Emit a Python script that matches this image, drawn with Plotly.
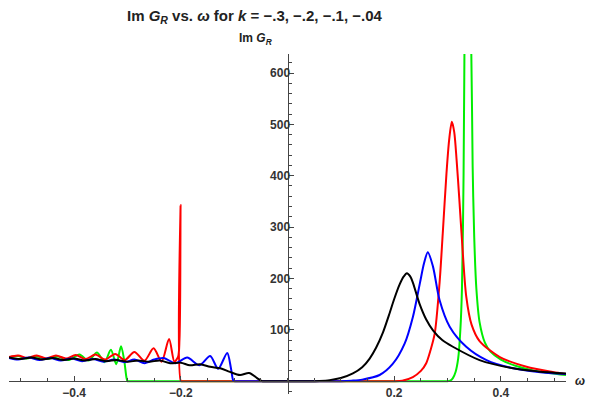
import plotly.graph_objects as go

# ---- data (omega, Im G_R) ----
w_green = [-0.522, -0.505, -0.49, -0.47, -0.45, -0.43, -0.41, -0.39, -0.373, -0.357, -0.343, -0.331,
           -0.321, -0.312, -0.306, -0.302, -0.300, -0.296, 0.296, 0.300, 0.305, 0.310, 0.315, 0.320,
           0.324, 0.327, 0.330, 0.332, 0.337, 0.342, 0.3445, 0.347, 0.350, 0.354, 0.360, 0.370,
           0.380, 0.400, 0.430, 0.460, 0.490, 0.522]
v_green = [46, 49, 44, 48, 43, 48, 41, 52, 40, 56, 37, 61,
           33, 68, 40, 8, 0, 0, 0, 0, 1, 6, 18, 45,
           100, 180, 400, 700, 1500, 700, 640, 420, 280, 180, 115, 75,
           58, 42, 29, 21, 16, 12]

w_red = [-0.522, -0.505, -0.488, -0.47, -0.452, -0.434, -0.415, -0.397, -0.378, -0.36, -0.342, -0.323,
         -0.305, -0.287, -0.268, -0.251, -0.236, -0.222, -0.212, -0.205, -0.2025, -0.2012, -0.2004,
         -0.1998, -0.196, 0.196, 0.20, 0.215, 0.235, 0.25, 0.26, 0.268, 0.276, 0.285, 0.291, 0.298,
         0.303, 0.308, 0.3125, 0.317, 0.322, 0.327, 0.335, 0.345, 0.36, 0.398, 0.448, 0.497, 0.522]
v_red = [47, 50, 45, 50, 44, 50, 44, 51, 43, 52, 42, 53,
         41, 57, 40, 64, 38, 82, 38, 48, 80, 160, 343,
         0, 0, 0, 0, 1, 8, 20, 35, 60, 93, 191, 288, 405,
         470, 505, 485, 430, 355, 275, 165, 110, 78, 47, 28, 18, 14]

w_blue = [-0.522, -0.505, -0.485, -0.465, -0.445, -0.425, -0.405, -0.385, -0.365, -0.345, -0.325,
          -0.305, -0.287, -0.268, -0.25, -0.232, -0.21, -0.188, -0.165, -0.145, -0.13, -0.113,
          -0.106, -0.102, -0.100, -0.096, 0.096, 0.100, 0.12, 0.14, 0.1726, 0.1976, 0.2195, 0.235,
          0.248, 0.256, 0.263, 0.2727, 0.285, 0.304, 0.335, 0.373, 0.423, 0.47, 0.522]
v_blue = [45, 42, 46, 41, 45, 40, 44, 39, 43, 38, 42,
          37, 42, 35, 42, 45, 35, 46, 31, 49, 24, 55,
          25, 2, 0, 0, 0, 0, 1, 3, 12, 34, 73, 125,
          190, 230, 251, 223, 158, 106, 67, 41, 25, 18, 14]

w_black = [-0.522, -0.50, -0.48, -0.46, -0.44, -0.42, -0.40, -0.38, -0.36, -0.34, -0.32, -0.30,
           -0.28, -0.259, -0.239, -0.22, -0.20, -0.183, -0.164, -0.145, -0.126, -0.108, -0.089,
           -0.072, -0.057, -0.048, -0.044, 0.036, 0.04, 0.06, 0.079, 0.10, 0.1226, 0.14, 0.154,
           0.166, 0.179, 0.19, 0.20, 0.21, 0.218, 0.2238, 0.23, 0.235, 0.2477, 0.26, 0.2727, 0.29,
           0.31, 0.36, 0.423, 0.47, 0.522]
v_black = [46, 43, 46, 42, 45, 41, 44, 40, 43, 39, 41, 38,
           40, 38, 40, 35, 36, 31, 33, 28, 25, 18, 12,
           16, 6, 0, 0, 0, 0, 0.5, 2, 6, 15, 27, 44,
           65, 95, 128, 160, 188, 204, 210, 204, 192, 150, 120, 99, 80,
           67, 41, 25, 19, 15]

series = [("k = -.3", w_green, v_green, "#00ee00"),
          ("k = -.2", w_red, v_red, "#ff0000"),
          ("k = -.1", w_blue, v_blue, "#0000ff"),
          ("k = -.04", w_black, v_black, "#000000")]

x_ticks = [-0.4, -0.2, 0.2, 0.4]
x_ticktext = ["\u22120.4", "\u22120.2", "0.2", "0.4"]
y_ticks = [100, 200, 300, 400, 500, 600]

X_RANGE = [-0.522, 0.522]
Y_RANGE = [-25, 637]

fig = go.Figure()
for name, w, v, c in series:
    fig.add_trace(go.Scatter(x=w, y=v, mode="lines", name=name,
                             line=dict(color=c, width=2, shape="spline", smoothing=0.8),
                             hoverinfo="skip"))

font_fam = "Liberation Sans, Arial, sans-serif"
fig.update_layout(
    width=589, height=403,
    margin=dict(l=9, r=23, t=54, b=9),
    paper_bgcolor="white", plot_bgcolor="white",
    showlegend=False,
    font=dict(family=font_fam, size=12, color="#333333"),
    xaxis=dict(range=X_RANGE, showgrid=False, zeroline=False, automargin=False,
               anchor="free",
               position=(0 - Y_RANGE[0]) / (Y_RANGE[1] - Y_RANGE[0]),
               showline=True, linecolor="#444444", linewidth=1,
               tickmode="array", tickvals=x_ticks, ticktext=x_ticktext,
               ticks="inside", ticklen=5, tickcolor="#444444",
               tickfont=dict(family=font_fam, size=12, color="#333333", weight="bold"),
               minor=dict(tickmode="linear", tick0=0, dtick=0.05, ticks="inside",
                          ticklen=3, tickcolor="#444444", showgrid=False),
               layer="above traces"),
    yaxis=dict(range=Y_RANGE, showgrid=False, zeroline=False, automargin=False,
               anchor="free",
               position=(0 - X_RANGE[0]) / (X_RANGE[1] - X_RANGE[0]),
               showline=True, linecolor="#444444", linewidth=1,
               tickmode="array", tickvals=y_ticks,
               ticks="inside", ticklen=5, tickcolor="#444444",
               ticklabelstandoff=-5,
               tickfont=dict(family=font_fam, size=12, color="#333333", weight="bold"),
               minor=dict(tickmode="linear", tick0=0, dtick=20, ticks="inside",
                          ticklen=3, tickcolor="#444444", showgrid=False),
               layer="above traces"),
)

fig.add_annotation(xref="paper", yref="paper", x=(255 - 9) / 557, y=1 + (54 - 17) / 340,
                   text="<b>Im <i>G</i><sub><i>R</i></sub> vs. <i>\u03c9</i> for <i>k</i> = \u2212.3, \u2212.2, \u2212.1, \u2212.04</b>",
                   showarrow=False, xanchor="center", yanchor="middle",
                   font=dict(family=font_fam, size=15, color="#222222"))
fig.add_annotation(xref="paper", yref="paper", x=(255 - 9) / 557, y=1 + (54 - 39) / 340,
                   text="<b>Im <i>G</i><sub><i>R</i></sub></b>",
                   showarrow=False, xanchor="center", yanchor="middle",
                   font=dict(family=font_fam, size=12, color="#222222"))
fig.add_annotation(xref="paper", yref="y", x=1 + (580 - 566) / 557, y=0,
                   text="<b><i>\u03c9</i></b>",
                   showarrow=False, xanchor="center", yanchor="middle",
                   font=dict(family=font_fam, size=12, color="#222222"))

fig.write_html("out.html",
               config={"displayModeBar": False, "staticPlot": True},
               post_script="document.body.style.margin='0';document.body.style.overflow='hidden';")
